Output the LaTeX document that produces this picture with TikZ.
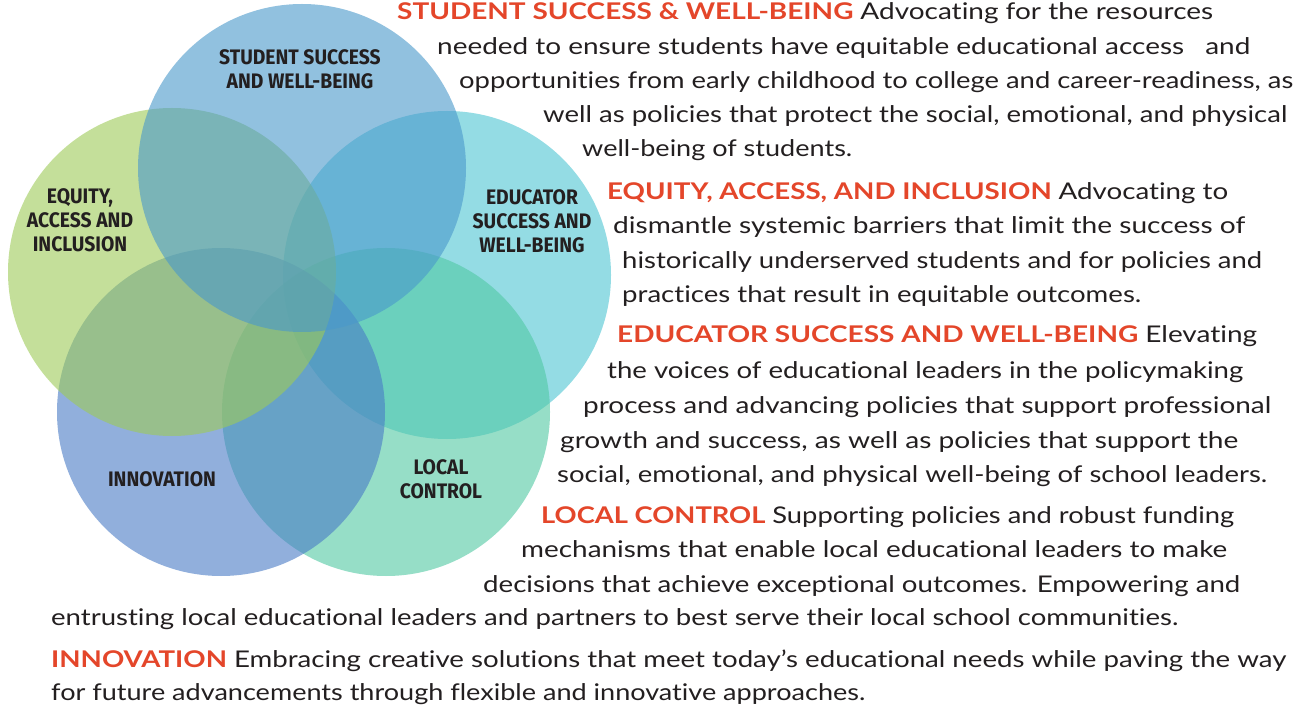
\documentclass[tikz,border=0pt]{standalone}
\usepackage{fontspec}
\usepackage{graphicx}
\setmainfont{Lato}[Ligatures=NoCommon]
\newfontfamily\labelfont[FakeStretch=0.92]{Fira Sans}
\definecolor{ink}{HTML}{231F20}
\definecolor{accent}{HTML}{E4462A}
\definecolor{cStudent}{RGB}{73,152,203}
\definecolor{cEquity}{RGB}{158,203,87}
\definecolor{cEducator}{RGB}{77,197,210}
\definecolor{cInnovation}{RGB}{73,123,198}
\definecolor{cLocal}{RGB}{80,200,163}
% stretch one line of text to a given width, keeping its height
\newcommand{\fitto}[2]{\resizebox{#1pt}{\height}{#2}}
\newcommand{\hd}[1]{{\bfseries\color{accent}#1}}
\begin{document}
\begin{tikzpicture}[x=1pt,y=-1pt,
  ring/.style={circle, minimum size=328pt, inner sep=0pt, fill opacity=0.6},
  ringlabel/.style={font=\labelfont\bfseries\fontsize{21}{24}\selectfont, text=ink, align=center, inner sep=0pt},
  textline/.style={anchor=base west, inner sep=0pt, text=ink, font=\fontsize{23}{28}\selectfont}]
\useasboundingbox[fill=white] (0,0) rectangle (1298,708);

% the five overlapping circles, bottom layer first
\node[ring, fill=cEducator]   (educator)   at (447,275) {};
\node[ring, fill=cLocal]      (local)      at (386,412) {};
\node[ring, fill=cInnovation] (innovation) at (221,412) {};
\node[ring, fill=cEquity]     (equity)     at (172,272) {};
\node[ring, fill=cStudent]    (student)    at (302,168) {};

% circle labels
\node[ringlabel] (studentLbl)    at (300,69)  {STUDENT SUCCESS\\AND WELL-BEING};
\node[ringlabel] (equityLbl)     at (80,220)  {EQUITY,\\ACCESS AND\\INCLUSION};
\node[ringlabel] (educatorLbl)   at (532,221) {EDUCATOR\\SUCCESS AND\\WELL-BEING};
\node[ringlabel] (innovationLbl) at (162,479) {INNOVATION};
\node[ringlabel] (localLbl)      at (441,479) {LOCAL\\CONTROL};

% descriptions
\node[textline] (p1a) at (397,20)  {\fitto{816}{\hd{STUDENT SUCCESS \& WELL-BEING} Advocating for the resources}};
\node[textline] (p1b) at (437,55)  {\fitto{813}{needed to ensure students have equitable educational access\enspace\ and}};
\node[textline] (p1c) at (459,89)  {\fitto{834}{opportunities from early childhood to college and career-readiness, as}};
\node[textline] (p1d) at (543,123) {\fitto{744}{well as policies that protect the social, emotional, and physical}};
\node[textline] (p1e) at (582,157) {\fitto{270}{well-being of students.}};

\node[textline] (p2a) at (607,200) {\fitto{621}{\hd{EQUITY, ACCESS, AND INCLUSION} Advocating to}};
\node[textline] (p2b) at (613,234) {\fitto{632}{dismantle systemic barriers that limit the success of}};
\node[textline] (p2c) at (622,269) {\fitto{640}{historically underserved students and for policies and}};
\node[textline] (p2d) at (622,303) {\fitto{519}{practices that result in equitable outcomes.}};

\node[textline] (p3a) at (617,343) {\fitto{640}{\hd{EDUCATOR SUCCESS AND WELL-BEING} Elevating}};
\node[textline] (p3b) at (607,378) {\fitto{636}{the voices of educational leaders in the policymaking}};
\node[textline] (p3c) at (583,413) {\fitto{688}{process and advancing policies that support professional}};
\node[textline] (p3d) at (560,448) {\fitto{678}{growth and success, as well as policies that support the}};
\node[textline] (p3e) at (557,482) {\fitto{710}{social, emotional, and physical well-being of school leaders.}};

\node[textline] (p4a) at (541,523) {\fitto{693}{\hd{LOCAL CONTROL} Supporting policies and robust funding}};
\node[textline] (p4b) at (521,557) {\fitto{706}{mechanisms that enable local educational leaders to make}};
\node[textline] (p4c) at (483,592) {\fitto{757}{decisions that achieve exceptional outcomes. Empowering and}};
\node[textline] (p4d) at (51,625)  {\fitto{1127}{entrusting local educational leaders and partners to best serve their local school communities.}};

\node[textline] (p5a) at (51,667)  {\fitto{1235}{\hd{INNOVATION} Embracing creative solutions that meet today’s educational needs while paving the way}};
\node[textline] (p5b) at (51,700)  {\fitto{814}{for future advancements through flexible and innovative approaches.}};
\end{tikzpicture}
\end{document}
